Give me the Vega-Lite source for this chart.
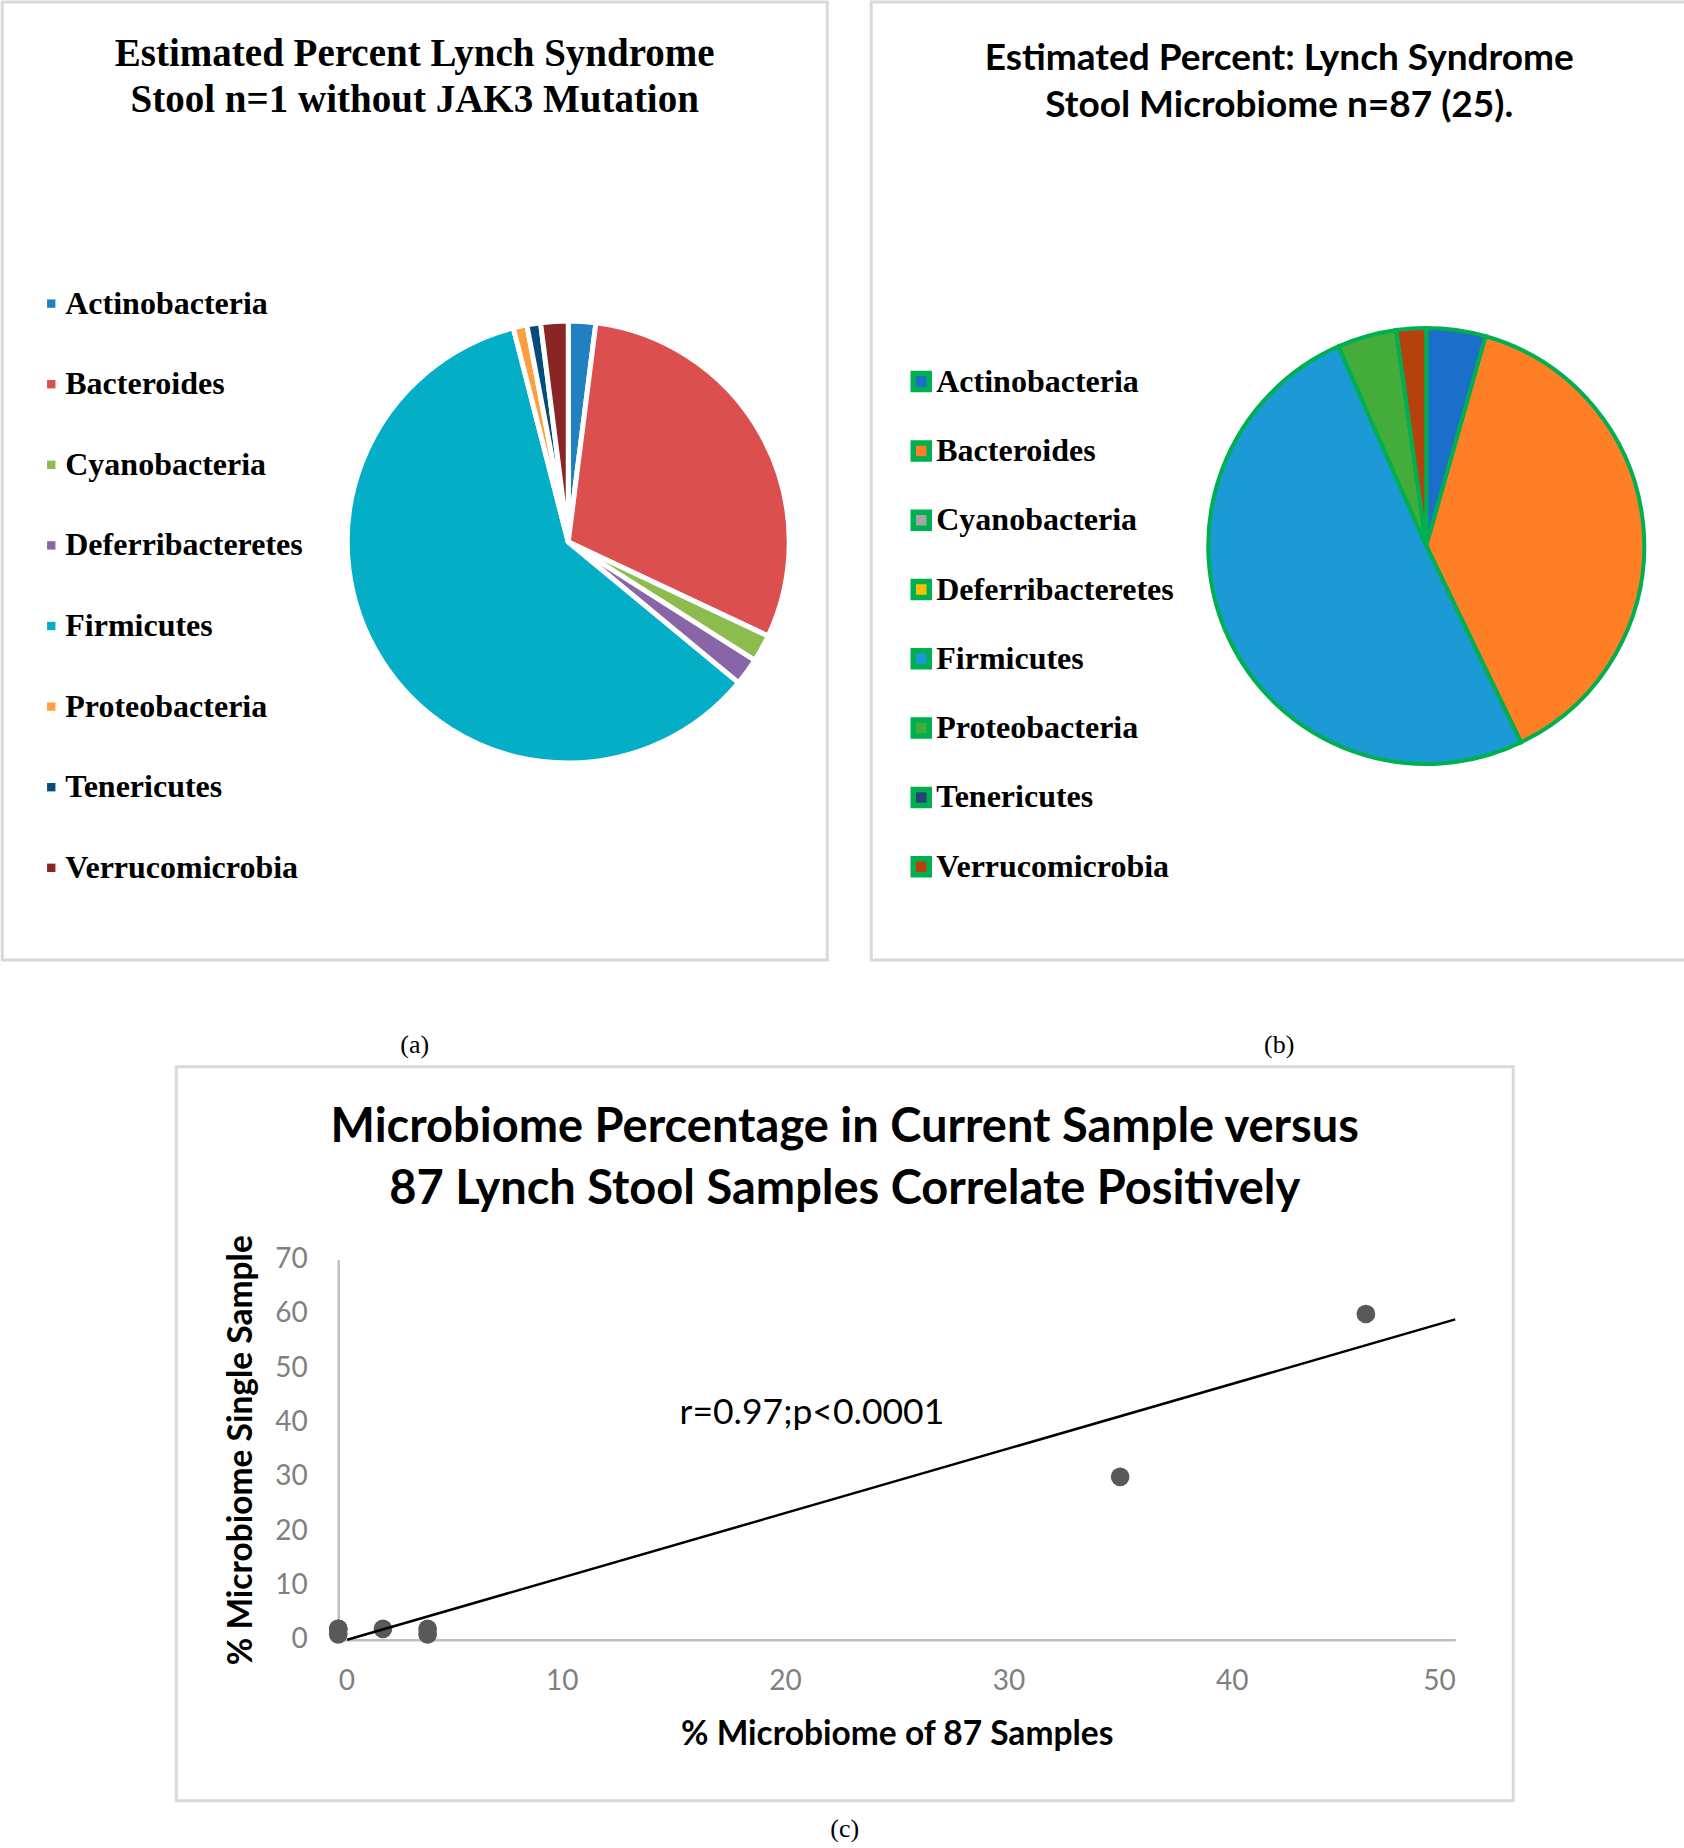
{
  "$schema": "https://vega.github.io/schema/vega-lite/v6.json",
  "padding": 0,
  "background": "white",
  "config": {
    "view": {"stroke": "#D9D9D9", "strokeWidth": 3},
    "font": "Lato"
  },
  "datasets": {
    "phyla": [
      {"phylum": "Actinobacteria", "single": 2, "lynch87": 4},
      {"phylum": "Bacteroides", "single": 30, "lynch87": 35},
      {"phylum": "Cyanobacteria", "single": 2, "lynch87": 0},
      {"phylum": "Deferribacteretes", "single": 2, "lynch87": 0},
      {"phylum": "Firmicutes", "single": 60, "lynch87": 46},
      {"phylum": "Proteobacteria", "single": 1, "lynch87": 4},
      {"phylum": "Tenericutes", "single": 1, "lynch87": 0},
      {"phylum": "Verrucomicrobia", "single": 2, "lynch87": 2}
    ],
    "trend": [
      {"lynch87": 0.4, "single": 0},
      {"lynch87": 50, "single": 59}
    ],
    "note": [
      {"lynch87": 21.2, "single": 41.8, "text": "r=0.97;p<0.0001"}
    ]
  },
  "vconcat": [
    {
      "hconcat": [
        {
          "title": {"text": "(a)", "orient": "bottom", "anchor": "middle", "frame": "bounds", "font": "Liberation Serif", "fontSize": 26, "fontWeight": "normal", "color": "black", "baseline": "top", "offset": 70.5},
          "vconcat": [
            {
              "width": 825,
              "height": 958,
              "view": {"stroke": "#D9D9D9", "strokeWidth": 3},
              "title": {"text": ["Estimated Percent Lynch Syndrome", "Stool n=1 without JAK3 Mutation"], "anchor": "middle", "frame": "group", "font": "Liberation Serif", "fontSize": 39, "fontWeight": "bold", "color": "black", "baseline": "top", "lineHeight": 46, "offset": -117.6},
              "data": {"name": "phyla"},
              "mark": {"type": "arc", "outerRadius": 221, "x": 566, "y": 540, "stroke": "white", "strokeWidth": 5},
              "encoding": {
                "theta": {"field": "single", "type": "quantitative", "stack": true},
                "order": {"field": "phylum", "sort": "ascending"},
                "color": {
                  "field": "phylum", "type": "nominal",
                  "scale": {
                    "domain": ["Actinobacteria", "Bacteroides", "Cyanobacteria", "Deferribacteretes", "Firmicutes", "Proteobacteria", "Tenericutes", "Verrucomicrobia"],
                    "range": ["#2180BF", "#DB4F4F", "#8DBC4E", "#8865A7", "#03AEC6", "#FF9E3C", "#044C7A", "#8A2525"]
                  },
                  "legend": {"orient": "none", "direction": "vertical", "legendX": 33, "legendY": 285.6, "title": null, "padding": 0, "symbolType": "square", "symbolSize": 70, "symbolStrokeWidth": 0, "labelFont": "Liberation Serif", "labelFontSize": 32, "labelFontWeight": "bold", "labelColor": "black", "rowPadding": 48.6, "labelOffset": -2, "labelLimit": 0}
                }
              }
            }
          ]
        },
        {
          "title": {"text": "(b)", "orient": "bottom", "anchor": "middle", "frame": "bounds", "font": "Liberation Serif", "fontSize": 26, "fontWeight": "normal", "color": "black", "baseline": "top", "offset": 70.5},
          "vconcat": [
            {
              "width": 816,
              "height": 958,
              "view": {"stroke": "#D9D9D9", "strokeWidth": 3},
              "title": {"text": ["Estimated Percent: Lynch Syndrome", "Stool Microbiome n=87 (25)."], "anchor": "middle", "frame": "group", "font": "Lato", "fontSize": 37, "fontWeight": "bold", "color": "black", "baseline": "top", "lineHeight": 47, "offset": -123.4},
              "data": {"name": "phyla"},
              "mark": {"type": "arc", "outerRadius": 218, "x": 555, "y": 544, "stroke": "#00B050", "strokeWidth": 4},
              "encoding": {
                "theta": {"field": "lynch87", "type": "quantitative", "stack": true},
                "order": {"field": "phylum", "sort": "ascending"},
                "color": {
                  "field": "phylum", "type": "nominal",
                  "scale": {
                    "domain": ["Actinobacteria", "Bacteroides", "Cyanobacteria", "Deferribacteretes", "Firmicutes", "Proteobacteria", "Tenericutes", "Verrucomicrobia"],
                    "range": ["#1C6FC8", "#FF7F27", "#A5A5A5", "#FFC000", "#1B9AD6", "#43AC3A", "#264478", "#B5420E"]
                  },
                  "legend": {"orient": "none", "direction": "vertical", "legendX": 34, "legendY": 363.6, "title": null, "padding": 0, "symbolType": "square", "symbolSize": 256, "symbolStrokeColor": "#00B050", "symbolStrokeWidth": 5.5, "labelFont": "Liberation Serif", "labelFontSize": 32, "labelFontWeight": "bold", "labelColor": "black", "rowPadding": 31.3, "labelOffset": -1, "labelLimit": 0}
                }
              }
            }
          ]
        }
      ],
      "spacing": 40,
      "resolve": {"scale": {"color": "independent", "theta": "independent"}, "legend": {"color": "independent"}}
    },
    {
      "title": {"text": "(c)", "orient": "bottom", "anchor": "middle", "frame": "bounds", "font": "Liberation Serif", "fontSize": 26, "fontWeight": "normal", "color": "black", "baseline": "top", "offset": 13.3},
      "vconcat": [
        {
          "width": 1337,
          "height": 734,
          "title": {"text": ["Microbiome Percentage in Current Sample versus", "87 Lynch Stool Samples Correlate Positively"], "anchor": "middle", "frame": "group", "font": "Lato", "fontSize": 47, "fontWeight": "bold", "color": "black", "baseline": "top", "lineHeight": 62, "offset": -147.5},
          "layer": [
            {
              "data": {"name": "phyla"},
              "mark": {"type": "point", "filled": true, "size": 350, "color": "#595959", "opacity": 1},
              "encoding": {
                "x": {"field": "lynch87", "type": "quantitative",
                  "scale": {"domain": [0, 50], "range": [162, 1279], "nice": false, "zero": false},
                  "axis": {"title": "% Microbiome of 87 Samples", "values": [0, 10, 20, 30, 40, 50], "offset": -161, "grid": false, "ticks": false, "tickSize": 0, "domainColor": "#BFBFBF", "domainWidth": 2.5, "labelFont": "Lato", "labelFontSize": 28, "labelColor": "#808080", "labelPadding": 28, "titleFont": "Lato", "titleFontSize": 33.5, "titleFontWeight": "bold", "titleColor": "black", "titlePadding": 23}
                },
                "y": {"field": "single", "type": "quantitative",
                  "scale": {"domain": [0, 70], "range": [573, 193], "nice": false, "zero": false},
                  "axis": {"title": "% Microbiome Single Sample", "values": [0, 10, 20, 30, 40, 50, 60, 70], "offset": -162, "grid": false, "ticks": false, "tickSize": 0, "domainColor": "#BFBFBF", "domainWidth": 2.5, "labelFont": "Lato", "labelFontSize": 28, "labelColor": "#808080", "labelPadding": 31, "titleFont": "Lato", "titleFontSize": 33.5, "titleFontWeight": "bold", "titleColor": "black", "titlePadding": 16}
                }
              }
            },
            {
              "data": {"name": "trend"},
              "mark": {"type": "line", "color": "black", "strokeWidth": 2.5},
              "encoding": {
                "x": {"field": "lynch87", "type": "quantitative"},
                "y": {"field": "single", "type": "quantitative"}
              }
            },
            {
              "data": {"name": "note"},
              "mark": {"type": "text", "font": "Lato", "fontSize": 35.5, "color": "black", "align": "center", "baseline": "middle"},
              "encoding": {
                "x": {"field": "lynch87", "type": "quantitative"},
                "y": {"field": "single", "type": "quantitative"},
                "text": {"field": "text"}
              }
            }
          ]
        }
      ]
    }
  ],
  "spacing": 6.7,
  "center": true
}
